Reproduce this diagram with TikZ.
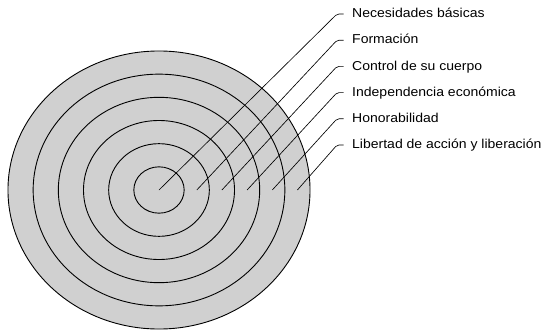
\documentclass[tikz,border=0pt]{standalone}
\usepackage{fontspec}
\newfontfamily\lab[FakeStretch=1.086]{Liberation Sans}
\definecolor{ringfill}{RGB}{208,208,208}
\begin{document}
\begin{tikzpicture}[x=1pt,y=-1pt,
  ring/.style={draw=black,line width=0.9pt,fill=ringfill},
  leader/.style={draw=black,line width=0.65pt,rounded corners=2pt},
  lbl/.style={anchor=base west,inner sep=0pt,font=\lab\fontsize{12.9}{14}\selectfont}]
\useasboundingbox (0,0) rectangle (543,332);
\foreach \k in {6,5,4,3,2,1}
  \draw[ring] (159,190) ellipse [x radius={25.17pt*\k}, y radius={23.17pt*\k}];
% end points inside rings
\coordinate (p1) at (159,190);
\coordinate (p2) at (196.8,190);
\coordinate (p3) at (221.9,190);
\coordinate (p4) at (247.1,190);
\coordinate (p5) at (272.3,190);
\coordinate (p6) at (297.4,190);
% labels
\node[lbl] (l1) at (352,17.6) {Necesidades básicas};
\node[lbl] (l2) at (352,43.8) {Formación};
\node[lbl] (l3) at (352,70.0) {Control de su cuerpo};
\node[lbl] (l4) at (352,96.2) {Independencia económica};
\node[lbl] (l5) at (352,122.4) {Honorabilidad};
\node[lbl] (l6) at (352,148.6) {Libertad de acción y liberación};
% corners and tick ends
\foreach \i/\y in {1/14,2/40.2,3/66.4,4/92.6,5/118.8,6/145}{
  \coordinate (c\i) at (337,\y);
  \coordinate (t\i) at (343.5,\y);
}
\foreach \i in {1,...,6}
  \draw[leader] (p\i) -- (c\i) -- (t\i);
\end{tikzpicture}
\end{document}
